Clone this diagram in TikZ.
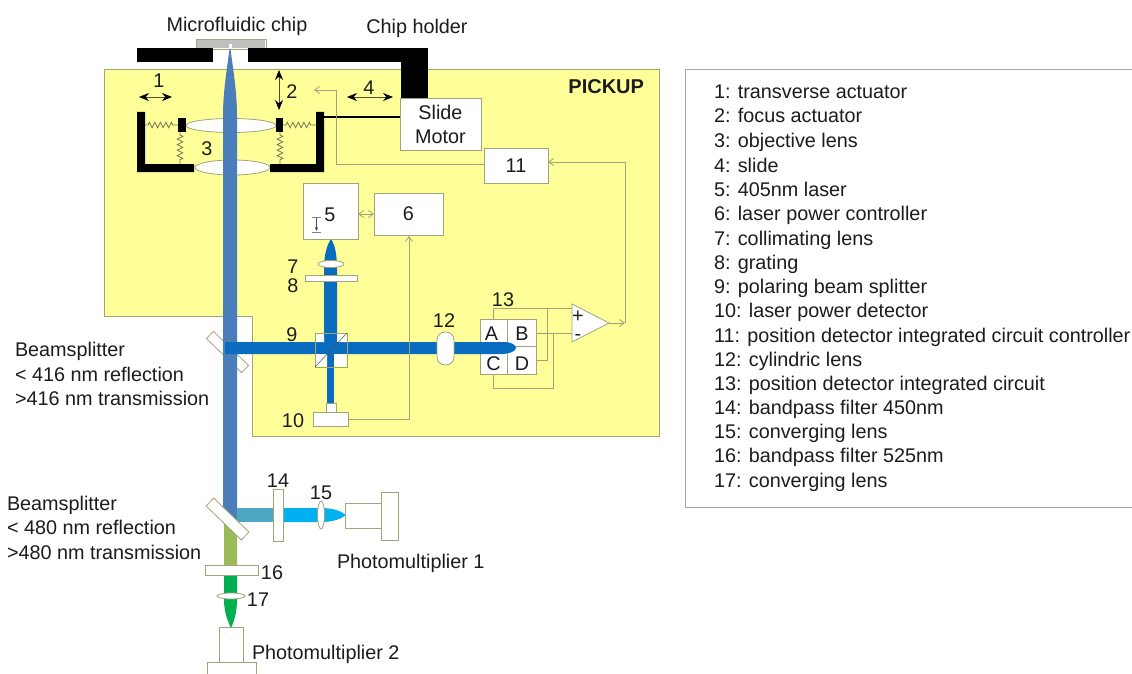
\documentclass[tikz,border=0pt]{standalone}
\usepackage{fontspec}
\setmainfont{Liberation Sans}
\usetikzlibrary{decorations.pathmorphing,arrows.meta}
\definecolor{pickup}{HTML}{FFFF99}
\definecolor{edgegrey}{HTML}{A3A37A}
\definecolor{beamslate}{HTML}{4A7EBB}
\definecolor{beamblue}{HTML}{0A6CBE}
\definecolor{beamteal}{HTML}{4BA7C3}
\definecolor{beamcyan}{HTML}{00B0F0}
\definecolor{beamolive}{HTML}{9BBB59}
\definecolor{beamgreen}{HTML}{00B050}
\definecolor{inkdark}{HTML}{1C1C1C}
\definecolor{chipgrey}{HTML}{BFBFBF}
\tikzset{
  lbl/.style={font=\fontsize{19.8}{22}\selectfont,text=inkdark,inner sep=0pt,outer sep=0pt,text height=16pt,text depth=2pt},
  legendtext/.style={lbl,anchor=west},
  opticbox/.style={draw=edgegrey,fill=white,line width=0.8pt,inner sep=0pt,outer sep=0pt,font=\fontsize{19.8}{24}\selectfont,text=inkdark,align=center},
  optic/.style={draw=edgegrey,fill=white,line width=0.8pt},
  holder/.style={fill=black,draw=none},
  sig/.style={draw=edgegrey,line width=0.8pt},
  sigtip/.style={sig,-{Straight Barb[length=5pt,width=7pt]}},
  sigboth/.style={sig,{Straight Barb[length=5pt,width=7pt]}-{Straight Barb[length=5pt,width=7pt]}},
  motion/.style={draw=black!70!pickup,line width=0.8pt,{Stealth[length=10pt,width=8pt,color=black]}-{Stealth[length=10pt,width=8pt,color=black]}},
  springh/.style={draw=edgegrey!70!black,line width=0.7pt,decorate,decoration={zigzag,segment length=5.5pt,amplitude=2.8pt,pre length=3pt,post length=3pt}},
}
\newcommand{\pbox}[6]{\node[opticbox,minimum width={(#4-#2)*1pt},minimum height={(#5-#3)*1pt}] (#1) at ({(#2+#4)/2},{(#3+#5)/2}) {#6};}
\begin{document}
\begin{tikzpicture}[x=1pt,y=-1pt]
\useasboundingbox (0,0) rectangle (1132,674);
\clip (0,0) rectangle (1132,674);
\fill[white] (0,0) rectangle (1132,674);
% pickup area and legend frame
\path[fill=pickup,draw=edgegrey,line width=0.9pt] (104,69) -- (659,69) -- (659,436) -- (252,436) -- (252,316) -- (104,316) -- cycle;
\draw[draw=gray!70,line width=0.8pt,fill=white] (685,69) -- (1132,69) (685,69) -- (685,507) -- (1132,507);
\node[lbl,anchor=east,font=\fontsize{20}{22}\selectfont\bfseries] (pickuplabel) at (644,87) {PICKUP};
% first mirror
\draw[optic,rotate around={-44:(227.5,352)}] (203,347) rectangle (252,357);
% lenses below the beam
\draw[optic] (231,125.5) ellipse [x radius=45,y radius=7];
\draw[optic] (232.5,167.5) ellipse [x radius=37.5,y radius=7.5];
% beams
\fill[beamslate] (230,46) .. controls (228,62) and (223,90) .. (223,115) -- (223,520) -- (237,520) -- (237,115) .. controls (237,90) and (232,62) .. (230,46) -- cycle;
\fill[beamblue] (225,342) -- (505,342) .. controls (511,342) and (516,345) .. (516,348) .. controls (516,351) and (509,354) .. (503,354) -- (225,354) -- cycle;
\fill[beamblue] (331,239) .. controls (327,245) and (324,254) .. (324,270) -- (324,348) -- (337,348) -- (337,270) .. controls (337,254) and (335,245) .. (331,239) -- cycle;
\fill[beamblue] (327,348) rectangle (334,404);
\fill[beamteal] (237,508) rectangle (274,522);
\fill[beamcyan] (283,508) -- (321,508) .. controls (333,508) and (341,511) .. (346,515) .. controls (341,519) and (333,522) .. (321,522) -- (283,522) -- cycle;
\fill[beamolive] (224,522) -- (237,532) -- (237,566) -- (224,566) -- cycle;
\fill[beamgreen] (224,574) -- (237,574) -- (237,600) .. controls (237,612) and (234,622) .. (231,628) .. controls (228,622) and (224,612) .. (224,600) -- cycle;
% chip and holder
\pbox{chip}{196}{39}{266}{49}{}
\node[holder,minimum width=76pt,minimum height=14pt,inner sep=0pt,outer sep=0pt] (holderleft) at (175,55) {};
\node[holder,minimum width=180pt,minimum height=14pt,inner sep=0pt,outer sep=0pt] (holderright) at (338,55) {};
\node[holder,minimum width=27pt,minimum height=50pt,inner sep=0pt,outer sep=0pt] (holderdown) at (414.5,73) {};
\fill[chipgrey] (197,40) rectangle (265,48);
\fill[white] (229,44) rectangle (232,48);
\fill[beamslate] (230,47.5) -- (228.5,62) -- (231.5,62) -- cycle;
% actuator
\fill[holder] (137,112) rectangle (145,172) (137,164) rectangle (194,172);
\fill[holder] (316,112) rectangle (324,172) (270,164) rectangle (324,172);
\node[holder,minimum width=8pt,minimum height=14pt,inner sep=0pt,outer sep=0pt] (blockleft) at (182,125) {};
\node[holder,minimum width=7pt,minimum height=14pt,inner sep=0pt,outer sep=0pt] (blockright) at (279.5,125) {};
\coordinate (wallleft) at (145,125);
\coordinate (wallright) at (316,125);
\coordinate (baseleft) at (180,164);
\coordinate (baseright) at (280,164);
\coordinate (blockleftb) at (180,132);
\coordinate (blockrightb) at (280,132);
\coordinate (motorwall) at (324,117);
\path[springh] (wallleft) -- (blockleft.west);
\path[springh] (blockright.east) -- (wallright);
\path[springh] (blockleftb) -- (baseleft);
\path[springh] (blockrightb) -- (baseright);
% boxes
\pbox{motor}{400}{98}{481}{150}{Slide\\Motor}
\pbox{ctrl}{484}{148}{548}{183}{11}
\pbox{laser}{303}{183}{358}{239}{}
\pbox{power}{374}{193}{443}{235}{6}
\draw[black,line width=1.4pt] (motorwall) -- (motor.west |- motorwall);
% optics on beam
\draw[optic] (331,264) ellipse [x radius=13,y radius=3.5];
\pbox{grating}{305}{275}{357}{281}{}
\draw[draw=edgegrey,line width=0.8pt] (315,333) rectangle (347,367);
\fill[white] (316,334) rectangle (324,342) (337,334) rectangle (346,342) (316,354) rectangle (327,366) (334,354) rectangle (346,366);
\draw[draw=black!70,line width=0.5pt] (315,367) -- (347,333);
\draw[draw=edgegrey,fill=white,line width=0.8pt,rounded corners=8pt] (437,332) rectangle (454,365);
\pbox{detsmall}{326}{403}{336}{412}{}
\pbox{detbig}{313}{412}{348}{426}{}
% position detector
\pbox{qa}{480}{319}{507}{346}{}
\pbox{qb}{507}{319}{536}{346}{}
\pbox{qc}{480}{346}{507}{374}{}
\pbox{qd}{507}{346}{536}{374}{}
\fill[beamblue] (480,342) -- (505,342) .. controls (511,342) and (516,345) .. (516,348) .. controls (516,351) and (509,354) .. (503,354) -- (480,354) -- cycle;
\node[lbl] (la) at (491.5,333) {A};
\node[lbl] (lb) at (522,333) {B};
\node[lbl] (lc) at (493.5,363) {C};
\node[lbl] (ld) at (522,363) {D};
% amplifier
\coordinate (ampa) at (572,304);
\coordinate (ampb) at (572,342);
\coordinate (ampout) at (609,323);
\coordinate (ampplus) at (572,308);
\coordinate (ampminus) at (572,333);
\draw[optic] (ampa) -- (ampout) -- (ampb) -- cycle;
\node[lbl] (plus) at (578,315) {+};
\node[lbl] (minus) at (578,333) {-};
% signal lines
\coordinate (bendd) at (547,360);
\coordinate (bendtop) at (547,308);
\coordinate (bendc) at (553,388);
\coordinate (bendcl) at (493.5,388);
\coordinate (bendctop) at (553,333);
\coordinate (atop) at (493.5,319);
\coordinate (atopb) at (493.5,308);
\coordinate (bout) at (536,333);
\coordinate (dout) at (536,360);
\coordinate (cbot) at (493.5,374);
\coordinate (ampend) at (625,323);
\coordinate (ctrlin) at (625,162);
\coordinate (ctrlout) at (336,164);
\coordinate (feedup) at (336,90);
\coordinate (feedtip) at (314,90);
\coordinate (detbend) at (409,419);
\coordinate (powertip) at (409,236);
\draw[sig] (atop) -- (atopb) -- (ampplus);
\draw[sig] (dout) -- (bendd) -- (bendtop);
\draw[sig] (bout) -- (ampminus);
\draw[sig] (cbot) -- (bendcl) -- (bendc) -- (bendctop);
\draw[sigtip] (ampout) -- (ampend);
\draw[sigtip] (ampend) -- (ctrlin) -- (ctrl.east |- ctrlin);
\draw[sigtip] (ctrl.west |- ctrlout) -- (ctrlout) -- (feedup) -- (feedtip);
\draw[sigtip] (detbig.east |- detbend) -- (detbend) -- (powertip);
\draw[sigboth] (laser.east |- power) -- (power.west);
% second mirror over the beams
\draw[optic,rotate around={-44:(227.5,519)}] (203,513.5) rectangle (252,524.5);
% lower optics
\pbox{filterone}{273}{489}{283}{541}{}
\draw[optic] (321,515) ellipse [x radius=3.5,y radius=14];
\pbox{pmtonea}{345}{503}{381}{528}{}
\pbox{pmtoneb}{381}{492}{398}{540}{}
\pbox{filtertwo}{205}{565}{258}{575}{}
\draw[optic] (231,596) ellipse [x radius=14,y radius=3];
\pbox{pmttwoa}{219}{627}{243}{662}{}
\pbox{pmttwob}{207}{662}{256}{682}{}
% motion arrows
\coordinate (ma) at (139,97); \coordinate (mb) at (172,97);
\coordinate (mc) at (279,70); \coordinate (md) at (279,110);
\coordinate (me) at (347,97); \coordinate (mf) at (393,97);
\draw[motion] (ma) -- (mb);
\draw[motion] (mc) -- (md);
\draw[motion] (me) -- (mf);
% small icon in laser box
\coordinate (ica) at (316.5,218); \coordinate (icb) at (316.5,231);
\draw[black!70,line width=0.5pt,-{Stealth[length=4pt,width=3.5pt]}] (ica) -- (icb);
\draw[black!50,line width=0.5pt] (312,217) -- (321,217) (312,232) -- (321,232);
% numbers
\node[lbl] (n1) at (159,81) {1};
\node[lbl] (n2) at (292,92) {2};
\node[lbl] (n3) at (207,148) {3};
\node[lbl] (n4) at (369,88) {4};
\node[lbl] (n5) at (330,214) {5};
\node[lbl] (n7) at (293,266) {7};
\node[lbl] (n8) at (293,285) {8};
\node[lbl] (n9) at (292,334) {9};
\node[lbl] (n10) at (293,420) {10};
\node[lbl] (n12) at (444,320) {12};
\node[lbl] (n13) at (503,299) {13};
\node[lbl] (n14) at (278,480) {14};
\node[lbl] (n15) at (321,492) {15};
\node[lbl] (n16) at (272,572) {16};
\node[lbl] (n17) at (258,599) {17};
% captions
\node[lbl] (capchip) at (237,25) {Microfluidic chip};
\node[lbl] (capholder) at (417,27) {Chip holder};
\node[legendtext] (bsa) at (15,349) {Beamsplitter};
\node[legendtext] (bsb) at (15,374) {< 416 nm reflection};
\node[legendtext] (bsc) at (15,398) {>416 nm transmission};
\node[legendtext] (bsd) at (7,503) {Beamsplitter};
\node[legendtext] (bse) at (7,527) {< 480 nm reflection};
\node[legendtext] (bsf) at (7,552) {>480 nm transmission};
\node[legendtext] (pma) at (337,561) {Photomultiplier 1};
\node[legendtext] (pmb) at (252,652) {Photomultiplier 2};
% legend
\node[legendtext] (k1) at (714,92) {1: transverse actuator};
\node[legendtext] (k2) at (714,116) {2: focus actuator};
\node[legendtext] (k3) at (714,140.5) {3: objective lens};
\node[legendtext] (k4) at (714,165) {4: slide};
\node[legendtext] (k5) at (714,189) {5: 405nm laser};
\node[legendtext] (k6) at (714,213.5) {6: laser power controller};
\node[legendtext] (k7) at (714,238) {7: collimating lens};
\node[legendtext] (k8) at (714,262) {8: grating};
\node[legendtext] (k9) at (714,286) {9: polaring beam splitter};
\node[legendtext] (k10) at (714,310.5) {10: laser power detector};
\node[legendtext] (k11) at (714,335) {11: position detector integrated circuit controller};
\node[legendtext] (k12) at (714,359) {12: cylindric lens};
\node[legendtext] (k13) at (714,383) {13: position detector integrated circuit};
\node[legendtext] (k14) at (714,407) {14: bandpass filter 450nm};
\node[legendtext] (k15) at (714,431) {15: converging lens};
\node[legendtext] (k16) at (714,455.5) {16: bandpass filter 525nm};
\node[legendtext] (k17) at (714,480) {17: converging lens};
\end{tikzpicture}
\end{document}
